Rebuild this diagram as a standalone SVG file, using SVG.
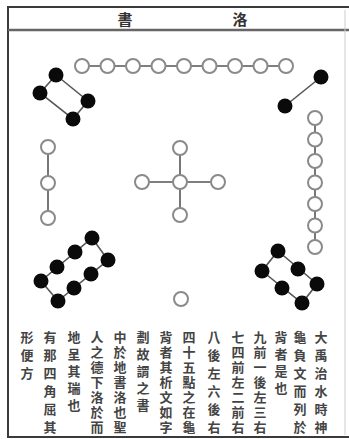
<svg xmlns="http://www.w3.org/2000/svg" width="349" height="439" viewBox="0 0 349 439">
<style>
.frame{stroke:#3a3a3a;stroke-width:2;fill:none}
.ln{stroke:#555;stroke-width:1.6;fill:none}
.o{fill:#fff;stroke:#8a8a8a;stroke-width:2}
.b{fill:#0a0a0a;stroke:none}
.hd{font-family:"Noto Sans CJK TC","Noto Sans CJK SC",sans-serif;font-size:15px;fill:#333;text-anchor:middle;font-weight:bold}
.tx{font-family:"Noto Sans CJK TC","Noto Sans CJK SC",sans-serif;font-size:13px;fill:#444;font-weight:bold;writing-mode:vertical-rl}
.s7{letter-spacing:2px}
.s6{letter-spacing:5px}
.s4{letter-spacing:4px}
</style>
<rect width="349" height="439" fill="#fff"/>
<g id="frame">
<line class="frame" x1="7" y1="7" x2="349" y2="7"/>
<line class="frame" x1="8" y1="6" x2="8" y2="438"/>
<line class="frame" x1="7" y1="437" x2="349" y2="437"/>
<line x1="8" y1="30" x2="349" y2="30" stroke="#666" stroke-width="2.5"/>
<line x1="345" y1="10" x2="345" y2="435" stroke="#ccc" stroke-width="1"/>
</g>
<g id="title">
<text class="hd" x="125" y="25">書</text>
<text class="hd" x="240" y="25">洛</text>
</g>
<g id="connectors">
<line class="ln" x1="82" y1="66" x2="286" y2="66"/>
<polygon class="ln" points="56,75 88,101 73,119 40,93"/>
<line class="ln" x1="321" y1="77" x2="285" y2="106"/>
<line class="ln" x1="315" y1="118" x2="315" y2="247"/>
<line class="ln" x1="48" y1="147" x2="48" y2="218"/>
<line class="ln" x1="142" y1="182" x2="218" y2="182"/>
<line class="ln" x1="180" y1="148" x2="180" y2="215"/>
<polygon class="ln" points="41,281 92,238 108,260 58,301"/>
<polygon class="ln" points="278,251 317,284 302,303 262,271"/>
</g>
<g id="n9">
<circle class="o" cx="82" cy="66" r="7"/><circle class="o" cx="107.5" cy="66" r="7"/><circle class="o" cx="133" cy="66" r="7"/><circle class="o" cx="158.5" cy="66" r="7"/><circle class="o" cx="184" cy="66" r="7"/><circle class="o" cx="209.5" cy="66" r="7"/><circle class="o" cx="235" cy="66" r="7"/><circle class="o" cx="260.5" cy="66" r="7"/><circle class="o" cx="286" cy="66" r="7"/>
</g>
<g id="n4">
<circle class="b" cx="56" cy="75" r="7.5"/><circle class="b" cx="40" cy="93" r="7.5"/><circle class="b" cx="88" cy="101" r="7.5"/><circle class="b" cx="73" cy="119" r="7.5"/>
</g>
<g id="n2">
<circle class="b" cx="321" cy="77" r="7.5"/><circle class="b" cx="285" cy="106" r="7.5"/>
</g>
<g id="n7">
<circle class="o" cx="315" cy="118" r="7"/><circle class="o" cx="315" cy="139.5" r="7"/><circle class="o" cx="315" cy="161" r="7"/><circle class="o" cx="315" cy="182.5" r="7"/><circle class="o" cx="315" cy="204" r="7"/><circle class="o" cx="315" cy="225.5" r="7"/><circle class="o" cx="315" cy="247" r="7"/>
</g>
<g id="n3">
<circle class="o" cx="48" cy="147" r="7"/><circle class="o" cx="48" cy="183" r="7"/><circle class="o" cx="48" cy="218" r="7"/>
</g>
<g id="n5">
<circle class="o" cx="180" cy="182" r="7"/><circle class="o" cx="142" cy="182" r="7"/><circle class="o" cx="218" cy="182" r="7"/><circle class="o" cx="180" cy="148" r="7"/><circle class="o" cx="180" cy="215" r="7"/>
</g>
<g id="n8">
<circle class="b" cx="41" cy="281" r="7.5"/><circle class="b" cx="57" cy="267" r="7.5"/><circle class="b" cx="75" cy="252" r="7.5"/><circle class="b" cx="92" cy="238" r="7.5"/>
<circle class="b" cx="58" cy="301" r="7.5"/><circle class="b" cx="74" cy="288" r="7.5"/><circle class="b" cx="91" cy="274" r="7.5"/><circle class="b" cx="108" cy="260" r="7.5"/>
</g>
<g id="n6">
<circle class="b" cx="278" cy="251" r="7.5"/><circle class="b" cx="298" cy="269" r="7.5"/><circle class="b" cx="317" cy="284" r="7.5"/>
<circle class="b" cx="262" cy="271" r="7.5"/><circle class="b" cx="282" cy="288" r="7.5"/><circle class="b" cx="302" cy="303" r="7.5"/>
</g>
<g id="n1">
<circle class="o" cx="181" cy="299" r="7"/>
</g>
<g id="caption" class="tx">
<text class="s6" x="321" y="331">大禹治水時神</text>
<text class="s6" x="300" y="331">龜負文而列於</text>
<text class="s4" x="281" y="331">背者是也</text>
<text class="s7" x="260" y="331">九前一後左三右</text>
<text class="s7" x="238" y="331">七四前左二前右</text>
<text class="s6" x="214" y="331">八後左六後右</text>
<text class="s7" x="189" y="331">四十五點之在龜</text>
<text class="s7" x="166" y="331">背者其析文如字</text>
<text class="s4" x="143" y="331">劃故謂之書</text>
<text class="s7" x="120" y="331">中於地書洛也聖</text>
<text class="s7" x="97" y="331">人之德下洛於而</text>
<text class="s4" x="74" y="331">地呈其瑞也</text>
<text class="s6" x="50" y="331">有那四角屈其</text>
<text class="s6" x="27" y="331">形便方</text>
</g>
</svg>
